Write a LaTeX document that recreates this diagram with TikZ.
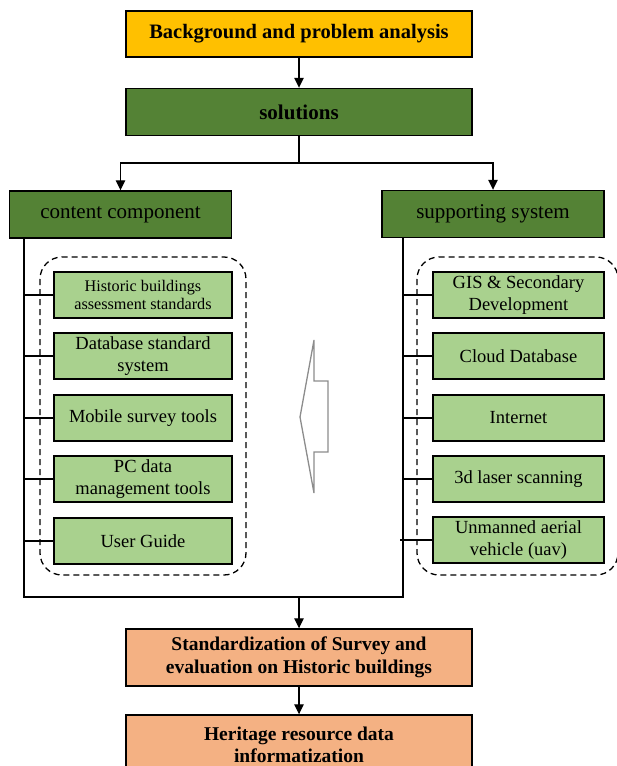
\documentclass[tikz,border=0pt]{standalone}
\usepackage{fontspec}
\setmainfont{Liberation Serif}
\usetikzlibrary{arrows.meta,calc}
\definecolor{cyellow}{HTML}{FFC000}
\definecolor{cdark}{HTML}{548235}
\definecolor{clight}{HTML}{A9D18E}
\definecolor{corange}{HTML}{F4B183}
\definecolor{cgray}{HTML}{8C8C8C}
\begin{document}
\begin{tikzpicture}[x=1pt,y=-1pt,
  box/.style={draw=black,line width=1.4pt,rectangle,inner sep=0pt,align=center},
  bigbox/.style={box,minimum width=346pt},
  headbox/.style={box,fill=cdark,minimum width=222pt,minimum height=47pt,font=\fontsize{21}{24}\selectfont},
  itembox/.style={box,fill=clight,minimum height=46pt,font=\fontsize{18.5}{22}\selectfont},
  lbox/.style={itembox,minimum width=178pt},
  rbox/.style={itembox,minimum width=171pt},
  conn/.style={line width=1.3pt},
  arr/.style={line width=1.3pt,-{Triangle[width=9.5pt,length=10pt]}},
  dashbox/.style={dashed,line width=1.3pt,rounded corners=22pt,dash pattern=on 6pt off 4pt}
]
\useasboundingbox (0,0) rectangle (617,766);
\clip (0,0) rectangle (617,766);

\node[bigbox,fill=cyellow,minimum height=46pt,font=\bfseries\fontsize{20.5}{24}\selectfont] (top) at (299,34) {Background and problem analysis};
\node[bigbox,fill=cdark,minimum height=47pt,font=\bfseries\fontsize{21}{24}\selectfont] (sol) at (299,112) {solutions};
\node[headbox] (cc) at (120.5,214.5) {content component};
\node[headbox] (ss) at (493,214) {supporting system};

\draw[dashbox] (40,257) rectangle (246,575);
\draw[dashbox] (417,257) rectangle (618,575);

\node[lbox,font=\fontsize{16.2}{18}\selectfont] (l1) at (143,295) {Historic buildings\\assessment standards};
\node[lbox] (l2) at (143,356) {Database standard\\system};
\node[lbox] (l3) at (143,418) {Mobile survey tools};
\node[lbox] (l4) at (143,479) {PC data\\management tools};
\node[lbox] (l5) at (143,541) {User Guide};

\node[rbox] (r1) at (518.5,295) {GIS \& Secondary\\Development};
\node[rbox] (r2) at (518.5,356) {Cloud Database};
\node[rbox] (r3) at (518.5,418) {Internet};
\node[rbox] (r4) at (518.5,479) {3d laser scanning};
\node[rbox] (r5) at (518.5,540) {Unmanned aerial\\vehicle (uav)};

\node[bigbox,fill=corange,minimum height=57pt,font=\bfseries\fontsize{19.5}{23}\selectfont] (std) at (299,657.5) {Standardization of Survey and\\evaluation on Historic buildings};
\node[bigbox,fill=corange,minimum height=60pt,font=\bfseries\fontsize{19.5}{22}\selectfont] (her) at (299,745) {Heritage resource data\\informatization};

% connectors
\draw[arr] (top) -- (sol);
\coordinate (brY) at (299,163);
\draw[conn] (sol.south) -- (brY);
\draw[arr] (brY) -| (cc.north);
\draw[arr] (brY) -| (ss.north);

\coordinate (bl) at (24,597);
\coordinate (brr) at (403,597);
\coordinate (mid) at (299,597);
\draw[conn] (cc.south -| bl) -- (bl) -- (brr) -- (ss.south -| brr);
\draw[arr] (mid) -- (std.north);
\draw[arr] (std) -- (her);

\foreach \n in {l1,l2,l3,l4,l5} \draw[conn] (bl |- \n.west) -- (\n.west);
\foreach \n in {r1,r2,r3,r4} \draw[conn] (brr |- \n.west) -- (\n.west);
\draw[conn] ($(brr |- r5.west)+(-3,0)$) -- (r5.west);

% hollow arrow pointing left
\draw[cgray,line width=1.3pt,fill=white,line join=miter] (328,381) -- (314,381) -- (314,340) -- (300,417) -- (314,493) -- (314,452) -- (328,452) -- cycle;
\end{tikzpicture}
\end{document}
